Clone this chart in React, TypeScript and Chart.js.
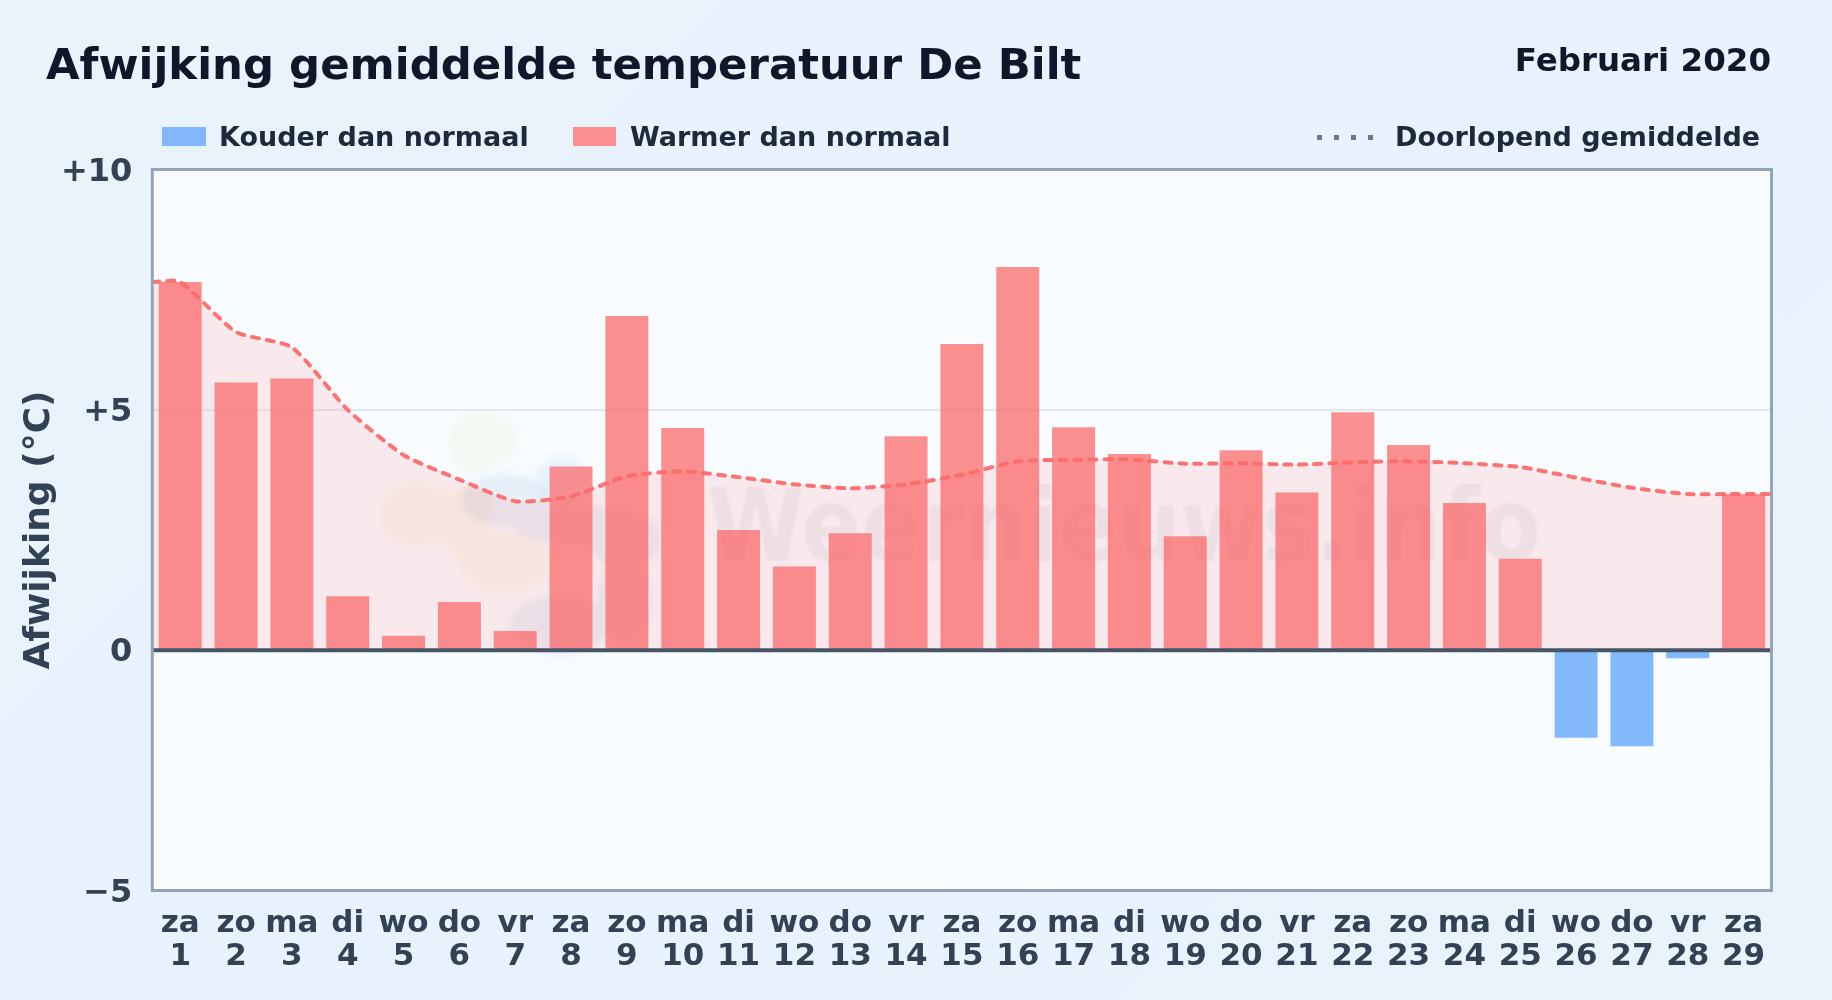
import React, { useEffect, useRef } from "react";
import { Chart, registerables } from "chart.js";

Chart.register(...registerables);

const weekdays = ["za","zo","ma","di","wo","do","vr","za","zo","ma","di","wo","do","vr","za","zo","ma","di","wo","do","vr","za","zo","ma","di","wo","do","vr","za"];
const days = [1,2,3,4,5,6,7,8,9,10,11,12,13,14,15,16,17,18,19,20,21,22,23,24,25,26,27,28,29];
const deviations = [7.66,5.57,5.65,1.12,0.3,1.0,0.4,3.82,6.95,4.62,2.5,1.74,2.43,4.45,6.37,7.97,4.64,4.08,2.37,4.16,3.28,4.95,4.27,3.06,1.9,-1.82,-2.0,-0.17,3.25];
const runningMean = [7.66,6.62,6.3,5.0,4.06,3.55,3.1,3.2,3.62,3.72,3.6,3.45,3.37,3.45,3.65,3.93,3.96,3.97,3.88,3.89,3.86,3.91,3.93,3.89,3.81,3.59,3.38,3.25,3.25];
const yTicks = [-5, 0, 5, 10];

const FONT = '"DejaVu Sans", sans-serif';
const PLOT = { left: 152.3, right: 1771.5, top: 169.5, bottom: 890.5 };

type Oval = [number, number, number, number];
const logoParts: { color: string; ovals: Oval[] }[] = [
  { color: "rgba(205,230,150,0.13)", ovals: [[482, 440, 34, 27], [475, 455, 22, 18]] },
  { color: "rgba(240,205,130,0.13)", ovals: [[418, 515, 38, 32], [470, 505, 24, 18], [505, 562, 46, 30], [465, 535, 26, 22]] },
  { color: "rgba(90,170,235,0.10)", ovals: [[562, 480, 27, 24]] },
  { color: "rgba(70,120,190,0.09)", ovals: [[505, 500, 44, 27], [575, 525, 60, 20], [625, 540, 35, 30], [560, 625, 50, 30], [625, 600, 28, 45]] },
];

const chromePlugin = {
  id: "chrome",
  beforeDraw(chart: any) {
    const { ctx, chartArea: a } = chart;
    ctx.save();
    ctx.fillStyle = "#f8fcff";
    ctx.fillRect(a.left, a.top, a.right - a.left, a.bottom - a.top);
    ctx.restore();
    const yScale = chart.scales.y;
    yScale._labelItems = yScale.getLabelItems().map((it: any) => ({ ...it, textOffset: 3 }));
  },
  beforeDatasetsDraw(chart: any) {
    const { ctx, chartArea: a } = chart;
    ctx.save();
    ctx.beginPath();
    ctx.rect(a.left, a.top, a.right - a.left, a.bottom - a.top);
    ctx.clip();
    ctx.filter = "blur(3px)";
    logoParts.forEach(({ color, ovals }) => {
      ctx.fillStyle = color;
      ctx.beginPath();
      ovals.forEach(([x, y, rx, ry]) => {
        ctx.moveTo(x + rx, y);
        ctx.ellipse(x, y, rx, ry, 0, 0, Math.PI * 2);
      });
      ctx.fill();
    });
    ctx.filter = "blur(1px)";
    ctx.fillStyle = "rgba(70,85,130,0.07)";
    ctx.font = `bold 101px ${FONT}`;
    ctx.textBaseline = "alphabetic";
    ctx.textAlign = "left";
    ctx.translate(707, 561);
    ctx.scale(0.875, 1);
    ctx.fillText("Weernieuws.info", 0, 0);
    ctx.restore();
  },
  afterDatasetsDraw(chart: any) {
    const { ctx, chartArea: a, scales } = chart;
    const y0 = scales.y.getPixelForValue(0);
    ctx.save();
    ctx.strokeStyle = "#475569";
    ctx.lineWidth = 4;
    ctx.beginPath();
    ctx.moveTo(a.left, y0);
    ctx.lineTo(a.right, y0);
    ctx.stroke();
    ctx.strokeStyle = "#94a3b8";
    ctx.lineWidth = 3;
    ctx.strokeRect(a.left, a.top, a.right - a.left, a.bottom - a.top);
    ctx.restore();
  },
};

export default function App() {
  const ref = useRef<HTMLCanvasElement>(null);
  useEffect(() => {
    const linePoints = [
      { x: 0.5, y: runningMean[0] },
      ...runningMean.map((y, i) => ({ x: days[i], y })),
      { x: 29.5, y: runningMean[runningMean.length - 1] },
    ];
    const chart = new Chart(ref.current as HTMLCanvasElement, {
      type: "bar",
      data: {
        labels: days.map((d, i) => [weekdays[i], String(d)]),
        datasets: [
          {
            type: "line",
            label: "Doorlopend gemiddelde",
            data: linePoints,
            xAxisID: "x2",
            yAxisID: "y",
            borderColor: "rgba(252,107,107,0.95)",
            backgroundColor: "rgba(255,107,107,0.13)",
            borderWidth: 4,
            borderDash: [7, 8],
            borderCapStyle: "round",
            tension: 0.2,
            pointRadius: 0,
            fill: "origin",
            order: 0,
          },
          {
            label: "Kouder dan normaal",
            data: deviations.map((v) => (v < 0 ? v : null)),
            backgroundColor: "rgba(96,165,250,0.78)",
            barPercentage: 0.77,
            categoryPercentage: 1,
            grouped: false,
            order: 2,
          },
          {
            label: "Warmer dan normaal",
            data: deviations.map((v) => (v >= 0 ? v : null)),
            backgroundColor: "rgba(251,105,105,0.74)",
            barPercentage: 0.77,
            categoryPercentage: 1,
            grouped: false,
            order: 1,
          },
        ] as any,
      },
      options: {
        animation: false,
        responsive: false,
        devicePixelRatio: 1,
        layout: { padding: { left: 0, right: 1832 - PLOT.right, top: PLOT.top, bottom: 0 } },
        plugins: { legend: { display: false }, tooltip: { enabled: false }, title: { display: false } },
        scales: {
          x: {
            type: "category",
            offset: true,
            border: { display: false },
            grid: { display: false },
            afterFit: (s: any) => { s.height = 1000 - PLOT.bottom; },
            ticks: {
              color: "#334155",
              font: { family: FONT, size: 31, weight: "bold", lineHeight: 1.065 },
              padding: 9,
              maxRotation: 0,
              minRotation: 0,
              autoSkip: false,
            },
          },
          x2: { type: "linear", display: false, offset: false, min: 0.5, max: 29.5 },
          y: {
            min: yTicks[0],
            max: yTicks[yTicks.length - 1],
            border: { display: false },
            afterFit: (s: any) => { s.width = PLOT.left; },
            afterBuildTicks: (s: any) => { s.ticks = yTicks.map((value) => ({ value })); },
            grid: {
              color: "#e2e8f0",
              lineWidth: (c: any) => (c.tick && c.tick.value === 5 ? 2 : 0),
              drawTicks: false,
            },
            ticks: {
              color: "#334155",
              font: { family: FONT, size: 32, weight: "bold" },
              padding: 20,
              callback: (v: any) => (v > 0 ? `+${v}` : v < 0 ? `\u2212${Math.abs(v)}` : "0"),
            },
            title: {
              display: true,
              text: "Afwijking (\u00b0C)",
              color: "#334155",
              font: { family: FONT, size: 36, weight: "bold" },
              padding: { top: 18, bottom: 0 },
            },
          },
        },
      } as any,
      plugins: [chromePlugin],
    });
    return () => chart.destroy();
  }, []);

  const abs = (o: React.CSSProperties): React.CSSProperties => ({ position: "absolute", whiteSpace: "nowrap", fontFamily: FONT, fontWeight: 700, ...o });
  const legendText = { fontSize: 27, color: "#1e293b", top: 121, lineHeight: "32px" };

  return (
    <div style={{ position: "fixed", left: 0, top: 0, width: 1832, height: 1000, overflow: "hidden", background: "linear-gradient(135deg,#e9f3fc 0%,#e7f2fc 50%,#e9f3fc 100%)" }}>
      <canvas ref={ref} width={1832} height={1000} style={{ position: "absolute", left: 0, top: 0, width: 1832, height: 1000 }} />
      <div style={abs({ left: 46, top: 38, fontSize: 43.4, color: "#0f172a", lineHeight: "52px" })}>Afwijking gemiddelde temperatuur De Bilt</div>
      <div style={abs({ right: 1832 - 1771, top: 41, fontSize: 32.5, color: "#0f172a", lineHeight: "38px" })}>Februari 2020</div>
      <div style={abs({ left: 162, top: 127, width: 44, height: 19, background: "#82b7fb" })} />
      <div style={abs({ left: 219, ...legendText })}>Kouder dan normaal</div>
      <div style={abs({ left: 573, top: 127, width: 43, height: 19, background: "#fb8f8f" })} />
      <div style={abs({ left: 630, ...legendText })}>Warmer dan normaal</div>
      {[0, 1, 2, 3].map((i) => (
        <div key={i} style={abs({ left: 1317 + i * 17, top: 135, width: 5, height: 5, background: "#6b7a8b" })} />
      ))}
      <div style={abs({ left: 1395, ...legendText })}>Doorlopend gemiddelde</div>
    </div>
  );
}
